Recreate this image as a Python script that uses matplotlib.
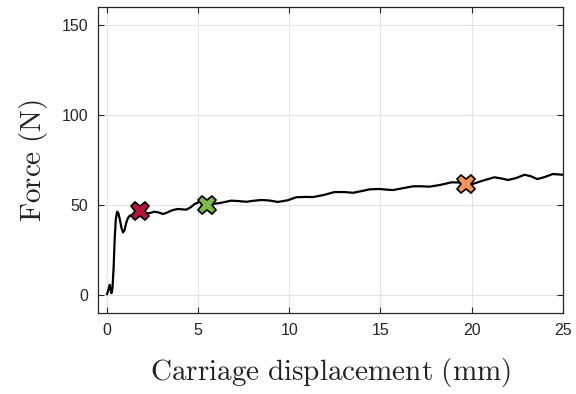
import matplotlib
matplotlib.use("Agg")
import matplotlib.pyplot as plt

plt.rcParams["mathtext.fontset"] = "cm"
plt.rcParams["font.family"] = ["Liberation Sans", "DejaVu Sans"]

# Force-displacement record of the carriage
displacement = [0, 0.08, 0.15, 0.2, 0.24, 0.3, 0.36, 0.42, 0.48, 0.55, 0.62, 0.7,
                0.8, 0.88, 0.96, 1.06, 1.15, 1.24, 1.38, 1.52, 1.65, 1.8, 1.95,
                2.1, 2.34, 2.6, 2.85, 3.07, 3.25, 3.44, 3.65, 3.9, 4.1, 4.35, 4.6,
                4.8, 5.08, 5.3, 5.5, 5.8, 6.2, 6.8, 7.2, 7.64, 8.0, 8.46, 8.9,
                9.37, 9.9, 10.38, 10.9, 11.3, 11.9, 12.48, 13.0, 13.5, 13.9, 14.4,
                14.95, 15.5, 15.7, 16.2, 16.8, 17.2, 17.7, 18.3, 18.9, 19.3, 19.67,
                20.07, 20.6, 21.25, 21.6, 22.0, 22.45, 22.9, 23.25, 23.6, 24.0,
                24.45, 24.75, 25.0]
force = [0.5, 3, 5.7, 3, 1, 4, 15, 31, 42, 46.3, 45.5, 42,
         37, 34.8, 36, 40.4, 42.8, 44, 44.5, 45, 46, 46.5, 46.2,
         45.6, 45.5, 46.3, 45.8, 45, 45.6, 46.5, 47.3, 47.8, 47.6, 47.4, 48.8,
         50.5, 51.8, 51.2, 50.2, 50.6, 51.1, 52.4, 52.2, 51.8, 52.3, 52.8, 52.5,
         51.7, 52.6, 54.3, 54.5, 54.4, 55.6, 57.2, 57.2, 56.8, 57.6, 58.7,
         58.9, 58.4, 58.3, 59.3, 60.4, 60.4, 60.2, 61.2, 62.6, 62.5, 61.7,
         61.7, 63.5, 65.4, 64.8, 63.9, 65.0, 66.8, 66.0, 64.4, 65.5,
         67.2, 67.0, 66.8]

# Highlighted points along the curve
mark_x = [1.8, 5.5, 19.67]
mark_y = [46.5, 50.2, 61.7]
mark_colors = ["#B5143C", "#7DB94B", "#F7935C"]

x_ticks = [0, 5, 10, 15, 20, 25]
y_ticks = [0, 50, 100, 150]

fig = plt.figure(figsize=(5.76, 3.94), dpi=100)
ax = fig.add_axes([0.170, 0.2056, 0.807, 0.7766])

ax.plot(displacement, force, color="black", lw=1.6, zorder=3)
for x, y, c in zip(mark_x, mark_y, mark_colors):
    ax.plot([x], [y], marker="X", ms=13, mfc=c, mec="black", mew=1.2,
            linestyle="none", zorder=4)

ax.set_xlim(-0.5, 25)
ax.set_ylim(-10, 160)
ax.set_xticks(x_ticks)
ax.set_yticks(y_ticks)
ax.grid(True, color="#e3e3e3", lw=0.8)
ax.set_axisbelow(True)

edge = "#262626"
for s in ax.spines.values():
    s.set_color(edge)
    s.set_linewidth(0.9)
ax.tick_params(direction="in", length=4, width=0.8, color=edge,
               labelcolor=edge, labelsize=11.5, top=True, right=True,
               pad=7)

ax.set_xlabel(r"$\mathrm{Carriage\ displacement\ (mm)}$", fontsize=21,
              color="#222222", labelpad=13)
ax.set_ylabel(r"$\mathrm{Force\ (N)}$", fontsize=21, color="#222222",
              labelpad=8)

fig.savefig("out.png", dpi=100)
